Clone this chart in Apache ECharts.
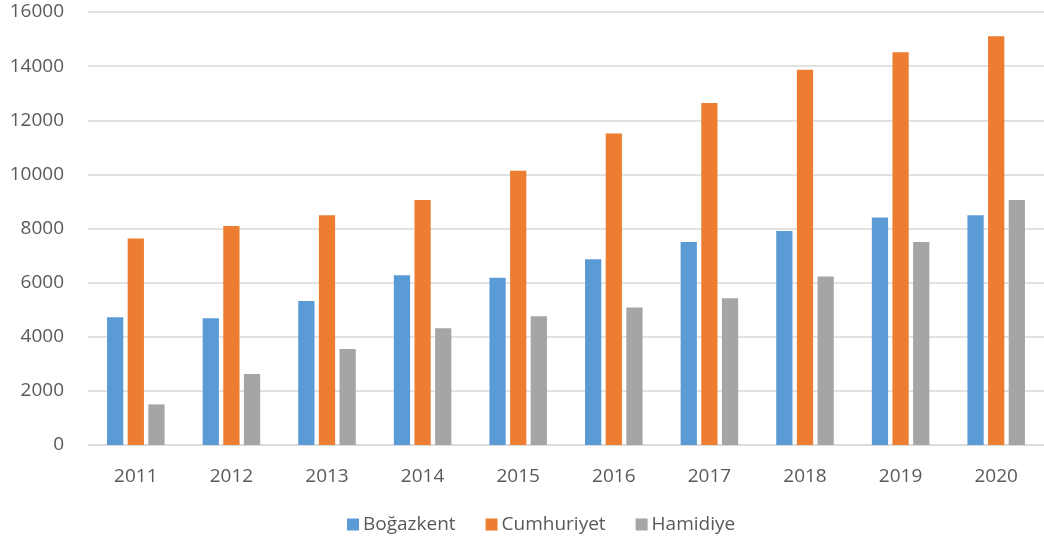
<!DOCTYPE html>
<html>
<head>
<meta charset="utf-8">
<script src="https://cdn.jsdelivr.net/npm/echarts@6/dist/echarts.min.js"></script>
<style>
  html, body { margin: 0; padding: 0; background: #fff; }
  #bar { width: 1044px; height: 546px; }
</style>
</head>
<body>
<div id="bar"></div>
<script>
// data
const years = ['2011', '2012', '2013', '2014', '2015', '2016', '2017', '2018', '2019', '2020']
const bogazkent = [4720, 4680, 5320, 6270, 6180, 6860, 7500, 7910, 8410, 8490]
const cumhuriyet = [7630, 8090, 8490, 9050, 10130, 11510, 12640, 13870, 14510, 15100]
const hamidiye = [1500, 2620, 3550, 4310, 4760, 5080, 5420, 6230, 7500, 9050]

const textColor = '#595959'
const font = 'Open Sans'

const chart = echarts.init(document.getElementById('bar'))

function barSeries(name, data, color) {
  return {
    name: name,
    type: 'bar',
    data: data,
    barWidth: '17%',
    barGap: '27%',
    itemStyle: { color: color },
    animation: false
  }
}

chart.setOption({
  textStyle: { fontFamily: font },
  grid: {
    top: 12,
    left: 88,
    right: 0,
    bottom: 101
  },
  legend: {
    bottom: 7,
    left: 342,
    itemWidth: 12,
    itemHeight: 12,
    itemGap: 30,
    icon: 'rect',
    textStyle: { color: textColor, fontSize: 19, fontFamily: font, padding: [0, 0, 0, -1] }
  },
  xAxis: {
    type: 'category',
    data: years,
    axisTick: { show: false },
    axisLine: { lineStyle: { color: '#d9d9d9', width: 1.5 } },
    axisLabel: { color: textColor, fontSize: 19, margin: 22 }
  },
  yAxis: {
    type: 'value',
    min: 0,
    max: 16000,
    interval: 2000,
    axisLine: { show: false },
    axisTick: { show: false },
    splitLine: { lineStyle: { color: '#d9d9d9', width: 1.5 } },
    axisLabel: {
      color: textColor,
      fontSize: 19,
      margin: 24,
      formatter: function (v) { return String(v) }
    }
  },
  series: [
    barSeries('Boğazkent', bogazkent, '#5B9BD5'),
    barSeries('Cumhuriyet', cumhuriyet, '#ED7D31'),
    barSeries('Hamidiye', hamidiye, '#A5A5A5')
  ]
})
</script>
</body>
</html>
